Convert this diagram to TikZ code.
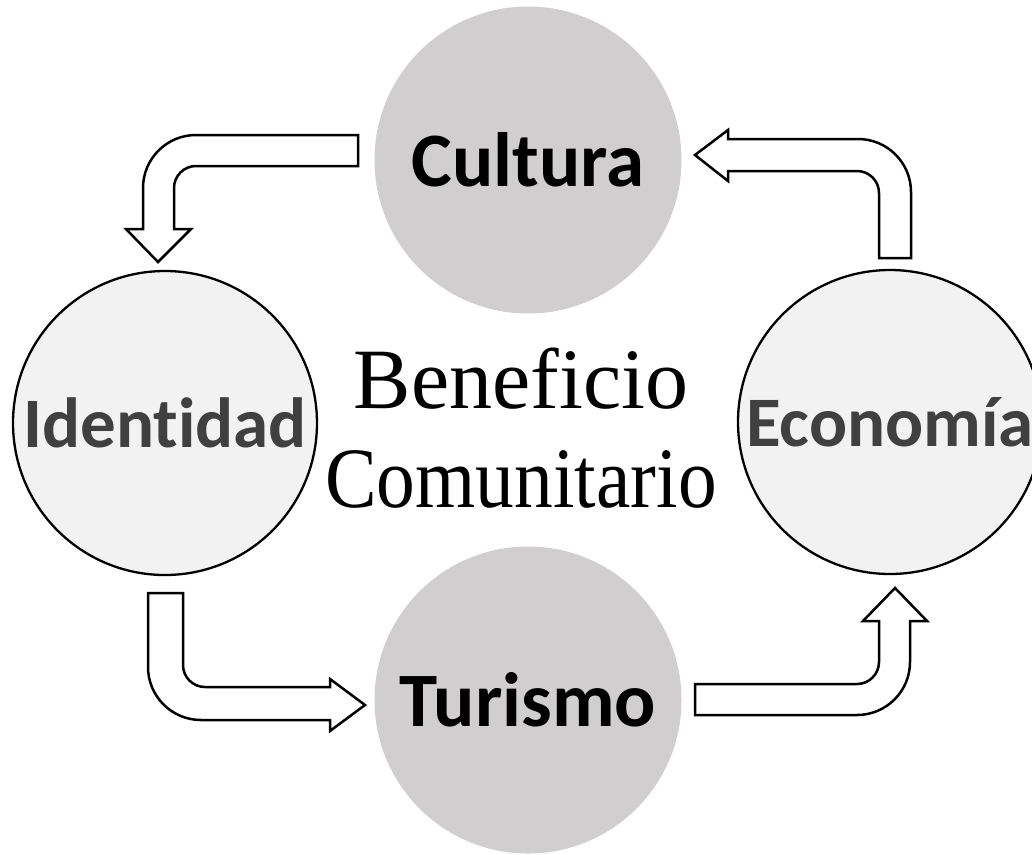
\documentclass[tikz,border=0pt]{standalone}
\usepackage{fontspec}
\usepackage{graphicx}
\setmainfont{Liberation Serif}
\newfontfamily\calibri[Ligatures = NoCommon]{Carlito}
\usepackage{xcolor}
\usepackage{tikz}
\usetikzlibrary{positioning}
\definecolor{fullgray}{HTML}{D0CECE}
\definecolor{palegray}{HTML}{F2F2F2}
\definecolor{labelgray}{HTML}{404040}

\begin{document}
\begin{tikzpicture}[x = 1pt, y = -1pt,
  fullcirc/.style = {circle, fill = fullgray, minimum size = 307pt, inner sep = 0pt,
    font = \calibri\bfseries\fontsize{77}{80}\selectfont},
  ringcirc/.style = {circle, draw, line width = 2.3pt, fill = palegray, minimum size = 304pt,
    inner sep = 0pt, text = labelgray, font = \calibri\bfseries\fontsize{71}{74}\selectfont},
  bentarrow/.style = {draw, line width = 2.5pt, fill = white, line join = miter}]
  \useasboundingbox (0,0) rectangle (1032,854);
  \node[fullcirc] (cult) at (528,160) {Cultura};
  \node[fullcirc] (tur) at (528,700) {Turismo};
  \node[ringcirc] (ident) at (165,423) {Identidad};
  \node[ringcirc] (econ) at (890,422) {Economía};
  \node[align = center, font = \fontsize{86}{99}\selectfont] (benef) at (521,428)
    {Beneficio\\\scalebox{0.9}[1]{Comunitario}};
  \draw[bentarrow] (358,135) [rounded corners = 53pt] -- (143,135) [sharp corners] -- (143,229)
    -- (126,229) -- (158,262) -- (191,229) -- (174,229) [rounded corners = 22pt] -- (174,166)
    [sharp corners] -- (358,166) -- cycle;
  \draw[bentarrow] (911,258) [rounded corners = 53pt] -- (911,139) [sharp corners] -- (728,139)
    -- (728,130) -- (695,155) -- (728,181) -- (728,171) [rounded corners = 22pt] -- (879,171)
    [sharp corners] -- (879,258) -- cycle;
  \draw[bentarrow] (148,593) [rounded corners = 53pt] -- (148,720) [sharp corners] -- (330,720)
    -- (330,731) -- (365,705) -- (330,679) -- (330,687) [rounded corners = 22pt] -- (183,687)
    [sharp corners] -- (183,593) -- cycle;
  \draw[bentarrow] (695,715) [rounded corners = 53pt] -- (910,715) [sharp corners] -- (910,621)
    -- (927,621) -- (895,588) -- (863,621) -- (879,621) [rounded corners = 22pt] -- (879,684)
    [sharp corners] -- (695,684) -- cycle;
\end{tikzpicture}
\end{document}
